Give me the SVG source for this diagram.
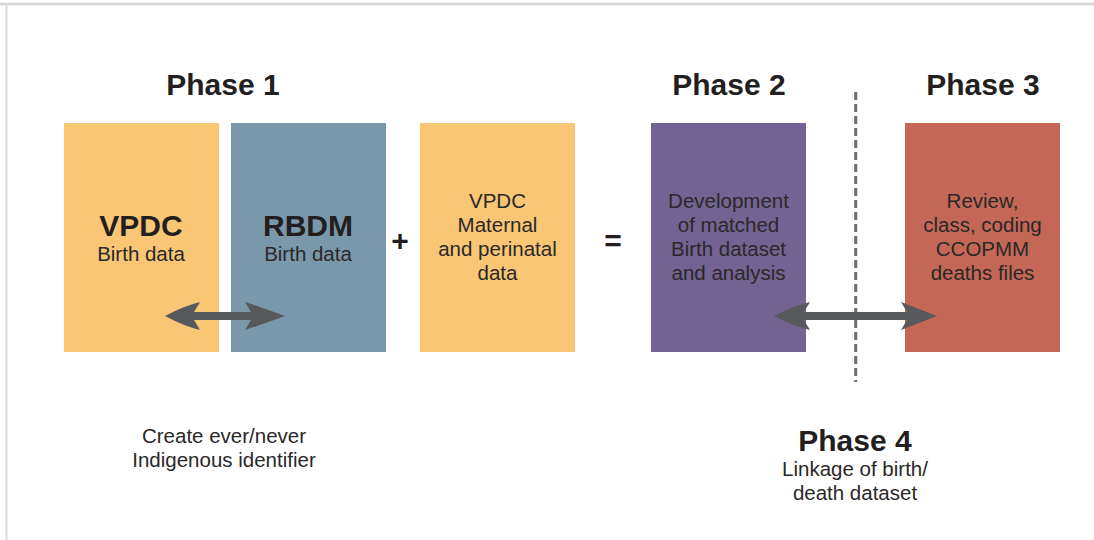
<svg xmlns="http://www.w3.org/2000/svg" width="1094" height="540" viewBox="0 0 1094 540">
  <style>
    .title { font-family: "Liberation Sans", Arial, sans-serif; font-weight: bold; font-size: 30px; fill: #231f20; text-anchor: middle; }
    .lbl { font-family: "Liberation Sans", Arial, sans-serif; font-size: 20.5px; fill: #2a2828; text-anchor: middle; }
    .big { font-family: "Liberation Sans", Arial, sans-serif; font-weight: bold; font-size: 30px; fill: #231f20; text-anchor: middle; }
    .op { font-family: "Liberation Sans", Arial, sans-serif; font-weight: bold; font-size: 30px; fill: #231f20; text-anchor: middle; }
    .arrow { fill: #58595b; }
  </style>

  <!-- frame -->
  <rect x="0" y="0" width="1094" height="540" fill="#ffffff"/>
  <line x1="0" y1="4" x2="1094" y2="4" stroke="#d6d6d6" stroke-width="2.5"/>
  <line x1="6.5" y1="4" x2="6.5" y2="540" stroke="#dadada" stroke-width="2"/>

  <!-- phase headings -->
  <text class="title" x="223" y="95">Phase 1</text>
  <text class="title" x="729" y="95">Phase 2</text>
  <text class="title" x="983" y="95">Phase 3</text>

  <g id="vpdc-birth">
    <rect x="64" y="123" width="155" height="229" fill="#f8c674"/>
    <text class="big" x="141" y="236">VPDC</text>
    <text class="lbl" x="141" y="261">Birth data</text>
  </g>

  <g id="rbdm-birth">
    <rect x="231" y="123" width="155" height="229" fill="#7a98ab"/>
    <text class="big" x="308" y="236">RBDM</text>
    <text class="lbl" x="308" y="261">Birth data</text>
  </g>

  <text class="op" x="400" y="251">+</text>

  <g id="vpdc-maternal">
    <rect x="420" y="123" width="155" height="229" fill="#f8c674"/>
    <text class="lbl" x="497.5" y="208">VPDC</text>
    <text class="lbl" x="497.5" y="232">Maternal</text>
    <text class="lbl" x="497.5" y="256">and perinatal</text>
    <text class="lbl" x="497.5" y="280">data</text>
  </g>

  <text class="op" x="613" y="251">=</text>

  <g id="phase2">
    <rect x="651" y="123" width="155" height="229" fill="#726392"/>
    <text class="lbl" x="728.5" y="208">Development</text>
    <text class="lbl" x="728.5" y="232">of matched</text>
    <text class="lbl" x="728.5" y="256">Birth dataset</text>
    <text class="lbl" x="728.5" y="280">and analysis</text>
  </g>

  <g id="phase3">
    <rect x="905" y="123" width="155" height="229" fill="#c56756"/>
    <text class="lbl" x="982.5" y="208">Review,</text>
    <text class="lbl" x="982.5" y="232">class, coding</text>
    <text class="lbl" x="982.5" y="256">CCOPMM</text>
    <text class="lbl" x="982.5" y="280">deaths files</text>
  </g>

  <g id="connectors">
    <!-- phase 2 / phase 3 divider -->
    <line x1="855.7" y1="92" x2="855.7" y2="382" stroke="#6d6e70" stroke-width="3" stroke-dasharray="8,4"/>
    <!-- VPDC <-> RBDM link -->
    <path class="arrow" d="M165,316 Q184,306 200,302 L194,312 L251,312 L245,302 Q266,309 285,316 Q266,323 245,330 L251,320 L194,320 L200,330 Q184,326 165,316 Z"/>
    <!-- birth dataset <-> deaths files link -->
    <path class="arrow" d="M774,316 Q793,306 810,302 L804,312 L907,312 L901,302 Q919,309 937,316 Q919,323 901,330 L907,320 L804,320 L810,330 Q793,326 774,316 Z"/>
  </g>

  <g id="indigenous-note">
    <text class="lbl" x="224" y="443">Create ever/never</text>
    <text class="lbl" x="224" y="467">Indigenous identifier</text>
  </g>

  <g id="phase4">
    <text class="title" x="855" y="451">Phase 4</text>
    <text class="lbl" x="855" y="476">Linkage of birth/</text>
    <text class="lbl" x="855" y="500">death dataset</text>
  </g>
</svg>
